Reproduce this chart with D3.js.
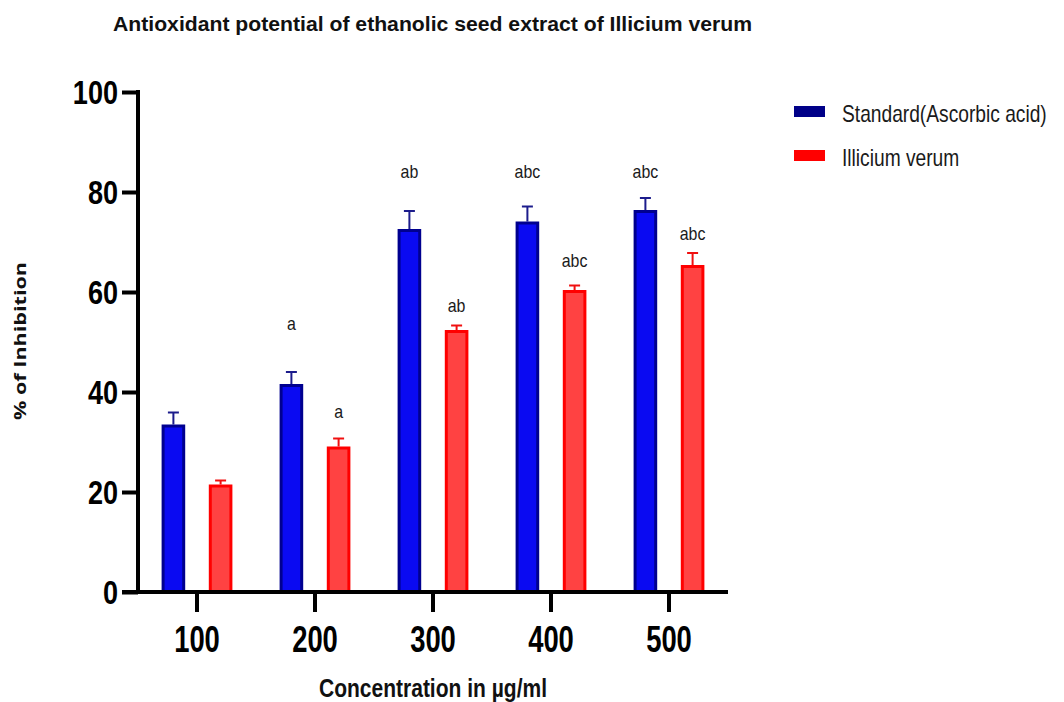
<!DOCTYPE html>
<html>
<head>
<meta charset="utf-8">
<script src="https://cdn.jsdelivr.net/npm/d3@7"></script>
<style>
  html, body { margin: 0; padding: 0; background: #fff; }
  svg { display: block; }
</style>
</head>
<body>
<svg id="chart" width="1064" height="702"></svg>
<script>
// ---- data ----
const categories = ["100", "200", "300", "400", "500"];
const seriesNames = ["Standard(Ascorbic acid)", "Illicium verum"];
const standardValues = [33.5, 41.6, 72.6, 74.1, 76.4];
const standardErrors = [2.4, 2.4, 3.6, 3.0, 2.4];
const illiciumValues = [21.5, 29.1, 52.4, 60.4, 65.4];
const illiciumErrors = [0.8, 1.6, 0.9, 0.9, 2.4];
const standardLetters = ["", "a", "ab", "abc", "abc"];
const illiciumLetters = ["", "a", "ab", "abc", "abc"];
const standardLetterAt = [null, 52.4, 82.8, 82.8, 82.8];
const illiciumLetterAt = [null, 34.8, 56.1, 65.1, 70.5];
const yTicks = [0, 20, 40, 60, 80, 100];

const titleText = "Antioxidant potential of ethanolic seed extract of Illicium verum";
const xTitle = "Concentration in \u00b5g/ml";
const yTitle = "% of Inhibition";

// ---- layout ----
const svg = d3.select("#chart");
const plot = { left: 138, right: 728, top: 92, bottom: 592 };
const FONT = "'Liberation Sans', Arial, sans-serif";

const x = d3.scaleBand().domain(categories).range([plot.left, plot.right]).paddingInner(0).paddingOuter(0);
const xSub = d3.scaleBand().domain(["standard", "illicium"])
  .range([x.bandwidth() * 0.2, x.bandwidth() * 0.8]).paddingInner(0.5).paddingOuter(0);
const y = d3.scaleLinear().domain([0, 100]).range([plot.bottom, plot.top]);

function condense(sel, k) {
  sel.each(function () {
    const w = this.getComputedTextLength();
    if (w > 0) d3.select(this).attr("textLength", w * k).attr("lengthAdjust", "spacingAndGlyphs");
  });
}
function fitWidth(sel, target) {
  sel.attr("textLength", target).attr("lengthAdjust", "spacingAndGlyphs");
}

const series = [
  { key: "standard", values: standardValues, errors: standardErrors, letters: standardLetters, letterAt: standardLetterAt,
    fill: "#0a0af2", stroke: "#00008f", err: "#1c1c8c", legend: "#000088" },
  { key: "illicium", values: illiciumValues, errors: illiciumErrors, letters: illiciumLetters, letterAt: illiciumLetterAt,
    fill: "#ff4242", stroke: "#ff0000", err: "#f01010", legend: "#ff0000" }
];

// ---- bars ----
const sw = 3;
series.forEach(s => {
  const g = svg.append("g").attr("class", "series-" + s.key);
  const data = categories.map((c, i) => ({ c, v: s.values[i], e: s.errors[i], l: s.letters[i], la: s.letterAt[i] }));
  // error bars (upper only)
  g.selectAll("line.err").data(data).join("line")
    .attr("x1", d => x(d.c) + xSub(s.key) + xSub.bandwidth() / 2)
    .attr("x2", d => x(d.c) + xSub(s.key) + xSub.bandwidth() / 2)
    .attr("y1", d => y(d.v))
    .attr("y2", d => y(d.v + d.e))
    .attr("stroke", s.err).attr("stroke-width", 2);
  g.selectAll("line.cap").data(data).join("line")
    .attr("x1", d => x(d.c) + xSub(s.key) + xSub.bandwidth() / 2 - 5.5)
    .attr("x2", d => x(d.c) + xSub(s.key) + xSub.bandwidth() / 2 + 5.5)
    .attr("y1", d => y(d.v + d.e))
    .attr("y2", d => y(d.v + d.e))
    .attr("stroke", s.err).attr("stroke-width", 2);
  g.selectAll("rect").data(data).join("rect")
    .attr("x", d => x(d.c) + xSub(s.key) + sw / 2)
    .attr("width", xSub.bandwidth() - sw)
    .attr("y", d => y(d.v) + sw / 2)
    .attr("height", d => y(0) - y(d.v) - sw / 2)
    .attr("fill", s.fill).attr("stroke", s.stroke).attr("stroke-width", sw);
  // significance letters
  const lt = g.selectAll("text.letter").data(data.filter(d => d.l)).join("text")
    .attr("class", "letter")
    .attr("x", d => x(d.c) + xSub(s.key) + xSub.bandwidth() / 2)
    .attr("y", d => y(d.la))
    .attr("text-anchor", "middle")
    .attr("font-family", FONT).attr("font-size", 19).attr("fill", "#1a1a1a")
    .text(d => d.l);
  condense(lt, 0.84);
});

// ---- axes ----
const yAxis = svg.append("g").attr("transform", `translate(${plot.left},0)`)
  .call(d3.axisLeft(y).tickValues(yTicks).tickSize(16).tickPadding(4).tickSizeOuter(0));
yAxis.select(".domain").attr("stroke", "#000").attr("stroke-width", 4)
  .attr("d", `M0,${plot.bottom + 2}V${plot.top - 2}`);
yAxis.selectAll(".tick line").attr("stroke", "#000").attr("stroke-width", 4);
yAxis.selectAll(".tick text")
  .attr("font-family", FONT).attr("font-weight", "bold").attr("font-size", 33).attr("fill", "#000")
  .attr("dy", "0.36em");
condense(yAxis.selectAll(".tick text"), 0.82);

const xAxis = svg.append("g").attr("transform", `translate(0,${plot.bottom})`)
  .call(d3.axisBottom(x).tickSize(20).tickPadding(14).tickSizeOuter(0));
xAxis.select(".domain").attr("stroke", "#000").attr("stroke-width", 4)
  .attr("d", `M${plot.left - 16},0H${plot.right}`);
xAxis.selectAll(".tick line").attr("stroke", "#000").attr("stroke-width", 4);
xAxis.selectAll(".tick text")
  .attr("font-family", FONT).attr("font-weight", "bold").attr("font-size", 37).attr("fill", "#000");
condense(xAxis.selectAll(".tick text"), 0.74);

// ---- titles ----
const t = svg.append("text").attr("x", 113).attr("y", 31)
  .attr("font-family", FONT).attr("font-weight", "bold").attr("font-size", 20).attr("fill", "#111")
  .text(titleText);
fitWidth(t, 639);

const xt = svg.append("text").attr("x", (plot.left + plot.right) / 2).attr("y", 697)
  .attr("text-anchor", "middle")
  .attr("font-family", FONT).attr("font-weight", "bold").attr("font-size", 25).attr("fill", "#111")
  .text(xTitle);
fitWidth(xt, 228);

const yt = svg.append("text").attr("transform", "translate(26,341) rotate(-90)")
  .attr("text-anchor", "middle")
  .attr("font-family", "'Open Sans', 'DejaVu Sans', sans-serif").attr("font-weight", "bold").attr("font-size", 16).attr("fill", "#111")
  .text(yTitle);
fitWidth(yt, 158);

// ---- legend ----
const legend = svg.append("g").attr("transform", "translate(794,0)");
const legendRows = [ { y: 112, name: seriesNames[0], color: series[0].legend }, { y: 156, name: seriesNames[1], color: series[1].legend } ];
legendRows.forEach(r => {
  legend.append("rect").attr("x", 0).attr("y", r.y - 6).attr("width", 31).attr("height", 11).attr("fill", r.color);
  legend.append("text").attr("transform", `translate(48,${r.y + 10}) scale(0.8,1)`)
    .attr("font-family", FONT).attr("font-size", 24).attr("fill", "#1a1a1a").text(r.name);
});
</script>
</body>
</html>
